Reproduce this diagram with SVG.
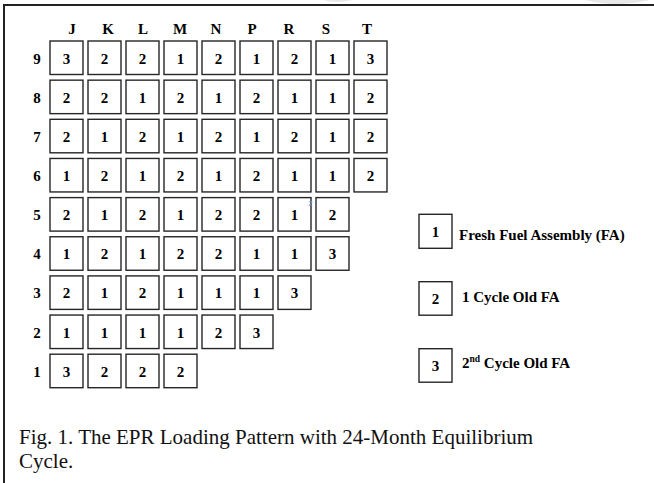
<svg xmlns="http://www.w3.org/2000/svg" width="654" height="483" viewBox="0 0 654 483">
<style>
.cell{fill:#fff;stroke:#262626;stroke-width:1.4}
.b{font-family:"Liberation Serif","Times New Roman",serif;font-weight:bold;font-size:15px;fill:#000}
.c{text-anchor:middle}
.cap{font-family:"Liberation Serif","Times New Roman",serif;font-size:21px;fill:#111}
</style>
<rect width="654" height="483" fill="#fff"/>
<g id="frame">
<path d="M323,0 Q337,4 352,0 Z" fill="#e8e8e8"/>
<path d="M585,0 Q615,8 650,0 Z" fill="#e8e8e8"/>
<path d="M4,483 V5 H654" fill="none" stroke="#222" stroke-width="2"/>
</g>
<g id="col-labels" class="b c">
<text x="72" y="34">J</text><text x="108" y="34">K</text><text x="143" y="34">L</text><text x="180" y="34">M</text><text x="216" y="34">N</text><text x="252" y="34">P</text><text x="289" y="34">R</text><text x="326" y="34">S</text><text x="367" y="34">T</text>
</g>
<g id="row-labels" class="b c">
<text x="37" y="63.5">9</text><text x="37" y="102.6">8</text><text x="37" y="141.8">7</text><text x="37" y="181">6</text><text x="37" y="220.1">5</text><text x="37" y="259.2">4</text><text x="37" y="298.4">3</text><text x="37" y="337.5">2</text><text x="37" y="376.7">1</text>
</g>
<g id="grid" class="b c">
<g id="r9">
<rect class="cell" x="50" y="41" width="33" height="33.5"/><text x="66.5" y="63.5">3</text>
<rect class="cell" x="88" y="41" width="33" height="33.5"/><text x="104.5" y="63.5">2</text>
<rect class="cell" x="126" y="41" width="33" height="33.5"/><text x="142.5" y="63.5">2</text>
<rect class="cell" x="164" y="41" width="33" height="33.5"/><text x="180.5" y="63.5">1</text>
<rect class="cell" x="202" y="41" width="33" height="33.5"/><text x="218.5" y="63.5">2</text>
<rect class="cell" x="240" y="41" width="33" height="33.5"/><text x="256.5" y="63.5">1</text>
<rect class="cell" x="278" y="41" width="33" height="33.5"/><text x="294.5" y="63.5">2</text>
<rect class="cell" x="316" y="41" width="33" height="33.5"/><text x="332.5" y="63.5">1</text>
<rect class="cell" x="354" y="41" width="33" height="33.5"/><text x="370.5" y="63.5">3</text>
</g>
<g id="r8">
<rect class="cell" x="50" y="80.15" width="33" height="33.5"/><text x="66.5" y="102.65">2</text>
<rect class="cell" x="88" y="80.15" width="33" height="33.5"/><text x="104.5" y="102.65">2</text>
<rect class="cell" x="126" y="80.15" width="33" height="33.5"/><text x="142.5" y="102.65">1</text>
<rect class="cell" x="164" y="80.15" width="33" height="33.5"/><text x="180.5" y="102.65">2</text>
<rect class="cell" x="202" y="80.15" width="33" height="33.5"/><text x="218.5" y="102.65">1</text>
<rect class="cell" x="240" y="80.15" width="33" height="33.5"/><text x="256.5" y="102.65">2</text>
<rect class="cell" x="278" y="80.15" width="33" height="33.5"/><text x="294.5" y="102.65">1</text>
<rect class="cell" x="316" y="80.15" width="33" height="33.5"/><text x="332.5" y="102.65">1</text>
<rect class="cell" x="354" y="80.15" width="33" height="33.5"/><text x="370.5" y="102.65">2</text>
</g>
<g id="r7">
<rect class="cell" x="50" y="119.3" width="33" height="33.5"/><text x="66.5" y="141.8">2</text>
<rect class="cell" x="88" y="119.3" width="33" height="33.5"/><text x="104.5" y="141.8">1</text>
<rect class="cell" x="126" y="119.3" width="33" height="33.5"/><text x="142.5" y="141.8">2</text>
<rect class="cell" x="164" y="119.3" width="33" height="33.5"/><text x="180.5" y="141.8">1</text>
<rect class="cell" x="202" y="119.3" width="33" height="33.5"/><text x="218.5" y="141.8">2</text>
<rect class="cell" x="240" y="119.3" width="33" height="33.5"/><text x="256.5" y="141.8">1</text>
<rect class="cell" x="278" y="119.3" width="33" height="33.5"/><text x="294.5" y="141.8">2</text>
<rect class="cell" x="316" y="119.3" width="33" height="33.5"/><text x="332.5" y="141.8">1</text>
<rect class="cell" x="354" y="119.3" width="33" height="33.5"/><text x="370.5" y="141.8">2</text>
</g>
<g id="r6">
<rect class="cell" x="50" y="158.45" width="33" height="33.5"/><text x="66.5" y="180.95">1</text>
<rect class="cell" x="88" y="158.45" width="33" height="33.5"/><text x="104.5" y="180.95">2</text>
<rect class="cell" x="126" y="158.45" width="33" height="33.5"/><text x="142.5" y="180.95">1</text>
<rect class="cell" x="164" y="158.45" width="33" height="33.5"/><text x="180.5" y="180.95">2</text>
<rect class="cell" x="202" y="158.45" width="33" height="33.5"/><text x="218.5" y="180.95">1</text>
<rect class="cell" x="240" y="158.45" width="33" height="33.5"/><text x="256.5" y="180.95">2</text>
<rect class="cell" x="278" y="158.45" width="33" height="33.5"/><text x="294.5" y="180.95">1</text>
<rect class="cell" x="316" y="158.45" width="33" height="33.5"/><text x="332.5" y="180.95">1</text>
<rect class="cell" x="354" y="158.45" width="33" height="33.5"/><text x="370.5" y="180.95">2</text>
</g>
<g id="r5">
<rect class="cell" x="50" y="197.6" width="33" height="33.5"/><text x="66.5" y="220.1">2</text>
<rect class="cell" x="88" y="197.6" width="33" height="33.5"/><text x="104.5" y="220.1">1</text>
<rect class="cell" x="126" y="197.6" width="33" height="33.5"/><text x="142.5" y="220.1">2</text>
<rect class="cell" x="164" y="197.6" width="33" height="33.5"/><text x="180.5" y="220.1">1</text>
<rect class="cell" x="202" y="197.6" width="33" height="33.5"/><text x="218.5" y="220.1">2</text>
<rect class="cell" x="240" y="197.6" width="33" height="33.5"/><text x="256.5" y="220.1">2</text>
<rect class="cell" x="278" y="197.6" width="33" height="33.5"/><text x="294.5" y="220.1">1</text>
<rect class="cell" x="316" y="197.6" width="33" height="33.5"/><text x="332.5" y="220.1">2</text>
</g>
<g id="r4">
<rect class="cell" x="50" y="236.75" width="33" height="33.5"/><text x="66.5" y="259.25">1</text>
<rect class="cell" x="88" y="236.75" width="33" height="33.5"/><text x="104.5" y="259.25">2</text>
<rect class="cell" x="126" y="236.75" width="33" height="33.5"/><text x="142.5" y="259.25">1</text>
<rect class="cell" x="164" y="236.75" width="33" height="33.5"/><text x="180.5" y="259.25">2</text>
<rect class="cell" x="202" y="236.75" width="33" height="33.5"/><text x="218.5" y="259.25">2</text>
<rect class="cell" x="240" y="236.75" width="33" height="33.5"/><text x="256.5" y="259.25">1</text>
<rect class="cell" x="278" y="236.75" width="33" height="33.5"/><text x="294.5" y="259.25">1</text>
<rect class="cell" x="316" y="236.75" width="33" height="33.5"/><text x="332.5" y="259.25">3</text>
</g>
<g id="r3">
<rect class="cell" x="50" y="275.9" width="33" height="33.5"/><text x="66.5" y="298.4">2</text>
<rect class="cell" x="88" y="275.9" width="33" height="33.5"/><text x="104.5" y="298.4">1</text>
<rect class="cell" x="126" y="275.9" width="33" height="33.5"/><text x="142.5" y="298.4">2</text>
<rect class="cell" x="164" y="275.9" width="33" height="33.5"/><text x="180.5" y="298.4">1</text>
<rect class="cell" x="202" y="275.9" width="33" height="33.5"/><text x="218.5" y="298.4">1</text>
<rect class="cell" x="240" y="275.9" width="33" height="33.5"/><text x="256.5" y="298.4">1</text>
<rect class="cell" x="278" y="275.9" width="33" height="33.5"/><text x="294.5" y="298.4">3</text>
</g>
<g id="r2">
<rect class="cell" x="50" y="315.05" width="33" height="33.5"/><text x="66.5" y="337.55">1</text>
<rect class="cell" x="88" y="315.05" width="33" height="33.5"/><text x="104.5" y="337.55">1</text>
<rect class="cell" x="126" y="315.05" width="33" height="33.5"/><text x="142.5" y="337.55">1</text>
<rect class="cell" x="164" y="315.05" width="33" height="33.5"/><text x="180.5" y="337.55">1</text>
<rect class="cell" x="202" y="315.05" width="33" height="33.5"/><text x="218.5" y="337.55">2</text>
<rect class="cell" x="240" y="315.05" width="33" height="33.5"/><text x="256.5" y="337.55">3</text>
</g>
<g id="r1">
<rect class="cell" x="50" y="354.2" width="33" height="33.5"/><text x="66.5" y="376.7">3</text>
<rect class="cell" x="88" y="354.2" width="33" height="33.5"/><text x="104.5" y="376.7">2</text>
<rect class="cell" x="126" y="354.2" width="33" height="33.5"/><text x="142.5" y="376.7">2</text>
<rect class="cell" x="164" y="354.2" width="33" height="33.5"/><text x="180.5" y="376.7">2</text>
</g>
</g>
<text x="310.5" y="206" font-family="Liberation Sans,sans-serif" font-size="8" fill="#6f9fd6" text-anchor="middle">2</text>
<g id="legend-1" class="b">
<rect class="cell" x="419" y="214.3" width="33" height="34"/><text class="c" x="435.5" y="236.5">1</text>
<text x="459" y="239.5">Fresh Fuel Assembly (FA)</text>
</g>
<g id="legend-2" class="b">
<rect class="cell" x="419" y="281.7" width="33" height="33.5"/><text class="c" x="435.5" y="303.5">2</text>
<text x="462" y="301.5">1 Cycle Old FA</text>
</g>
<g id="legend-3" class="b">
<rect class="cell" x="419" y="348.7" width="33" height="33.5"/><text class="c" x="435.5" y="370.5">3</text>
<text x="462" y="367.5">2<tspan font-size="9.5" dy="-5.5">nd</tspan><tspan dy="5.5"> Cycle Old FA</tspan></text>
</g>
<g id="caption" class="cap">
<text x="19" y="444">Fig. 1. The EPR Loading Pattern with 24-Month Equilibrium</text>
<text x="19" y="468">Cycle.</text>
</g>
</svg>
